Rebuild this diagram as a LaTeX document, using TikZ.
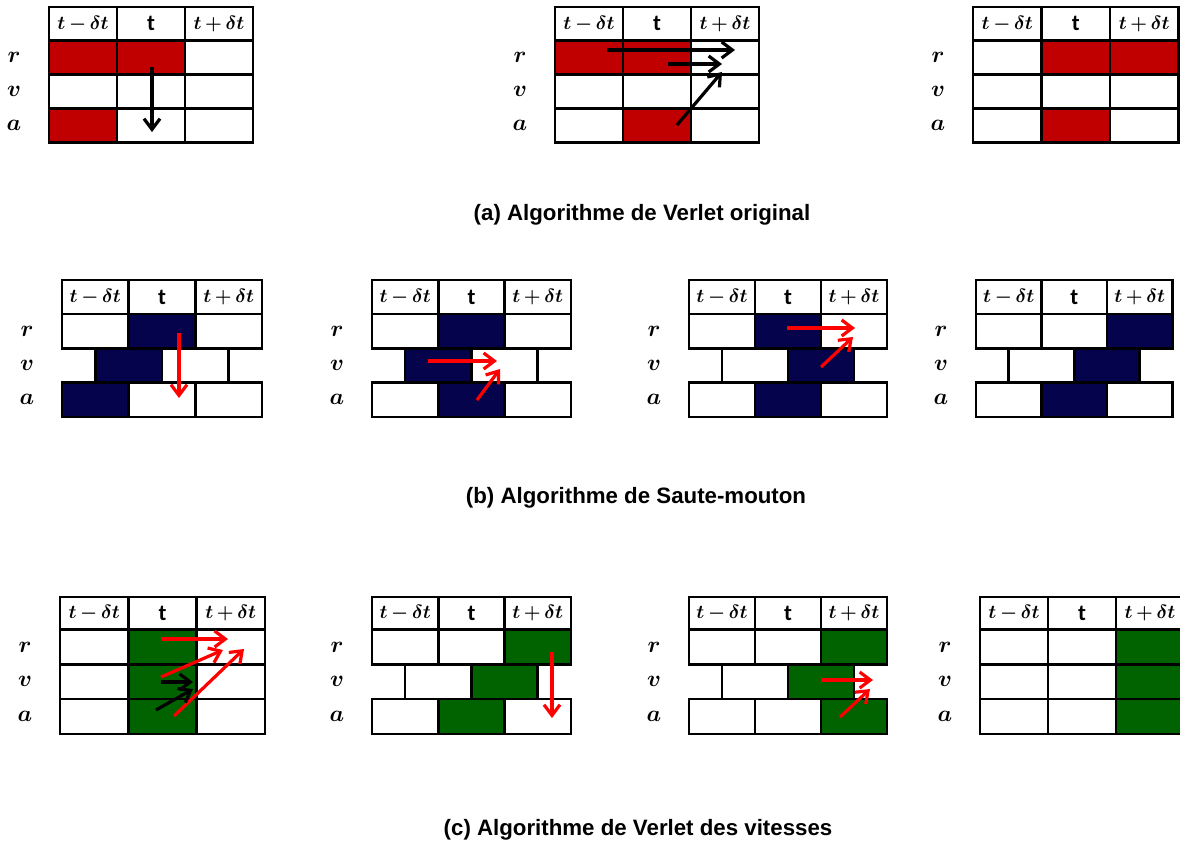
\documentclass[tikz,border=0pt]{standalone}
\usepackage{amsmath}
\usepackage{fontspec}
\usetikzlibrary{arrows.meta}
\newfontfamily\capfont{Liberation Sans}
\newfontfamily\calfont{Carlito}
\definecolor{vred}{HTML}{C00000}
\definecolor{vnavy}{HTML}{04034C}
\definecolor{vgreen}{HTML}{006300}
\definecolor{ared}{HTML}{FF0000}
\tikzset{
  grid/.style={line width=2pt, line cap=rect},
  hd/.style={font=\fontsize{15}{17}\selectfont\boldmath, inner sep=0pt},
  rl/.style={font=\fontsize{17}{19}\selectfont\boldmath, inner sep=0pt},
  captxt/.style={font=\capfont\bfseries\fontsize{16.7}{20}\selectfont, inner sep=0pt},
  arr/.style={line width=2.4pt, -{Straight Barb[length=8pt,width=12pt,line width=2.4pt]}},
  barr/.style={arr, black},
  rarr/.style={arr, ared},
}
% #1 name, #2 x0, #3 y0, #4 w, #5 header h, #6 row h, #7 shifted v row (0/1)
\newcommand\tabgrid[7]{%
  \node[hd] (#1-h1) at ({#2+0.5*#4},{#3+0.5*#5}) {$t\mkern-1mu-\mkern-1mu\delta t$};
  \node[hd] (#1-h2) at ({#2+1.5*#4},{#3+0.5*#5}) {\calfont\bfseries\fontsize{17}{19}\selectfont t};
  \node[hd] (#1-h3) at ({#2+2.5*#4},{#3+0.5*#5}) {$t\mkern-1mu+\mkern-1mu\delta t$};
  \node[rl] (#1-r) at ({#2-35},{#3+#5+0.5*#6}) {$r$};
  \node[rl] (#1-v) at ({#2-35},{#3+#5+1.5*#6}) {$v$};
  \node[rl] (#1-a) at ({#2-35},{#3+#5+2.5*#6}) {$a$};
  \draw[grid] (#2,#3) -- ++({3*#4},0);
  \draw[grid] (#2,{#3+#5}) -- ++({3*#4},0);
  \draw[grid] (#2,{#3+#5+#6}) -- ++({3*#4},0);
  \draw[grid] (#2,{#3+#5+2*#6}) -- ++({3*#4},0);
  \draw[grid] (#2,{#3+#5+3*#6}) -- ++({3*#4},0);
  \foreach \k in {0,1,2,3} {
    \draw[grid] ({#2+\k*#4},#3) -- ++(0,{#5+#6});
    \draw[grid] ({#2+\k*#4},{#3+#5+2*#6}) -- ++(0,#6);
  }
  \ifnum#7=0
    \foreach \k in {0,1,2,3} {\draw[grid] ({#2+\k*#4},{#3+#5+#6}) -- ++(0,#6);}
  \else
    \foreach \k in {0.5,1.5,2.5} {\draw[grid] ({#2+\k*#4},{#3+#5+#6}) -- ++(0,#6);}
  \fi
}
% #1 x0, #2 y0, #3 w, #4 hh, #5 rh, #6 column offset, #7 row (1..3), #8 colour
\newcommand\fillcell[8]{%
  \fill[#8] ({#1+#6*#3},{#2+#4+(#7-1)*#5}) rectangle ++(#3,#5);
}
\begin{document}
\begin{tikzpicture}[x=0.75pt, y=-0.75pt]
\useasboundingbox (0,0) rectangle (1180,843);
\clip (0,0) rectangle (1180,843);

% ---------- (a) ----------
\fillcell{49}{7}{68}{33.5}{34}{0}{1}{vred}
\fillcell{49}{7}{68}{33.5}{34}{1}{1}{vred}
\fillcell{49}{7}{68}{33.5}{34}{0}{3}{vred}
\tabgrid{A1}{49}{7}{68}{33.5}{34}{0}

\fillcell{555}{7}{68}{33.5}{34}{0}{1}{vred}
\fillcell{555}{7}{68}{33.5}{34}{1}{1}{vred}
\fillcell{555}{7}{68}{33.5}{34}{1}{3}{vred}
\tabgrid{A2}{555}{7}{68}{33.5}{34}{0}

\fillcell{973}{7}{68.5}{33.5}{34}{1}{1}{vred}
\fillcell{973}{7}{68.5}{33.5}{34}{2}{1}{vred}
\fillcell{973}{7}{68.5}{33.5}{34}{1}{3}{vred}
\tabgrid{A3}{973}{7}{68.5}{33.5}{34}{0}

\draw[barr] (152,67) -- (152,132);
\draw[barr] (607,50) -- (735,50);
\draw[barr] (668,64) -- (722,64);
\draw[barr] (677,125) -- (722,72);

\node[captxt] (capA) at (642,215) {(a) Algorithme de Verlet original};

% ---------- (b) ----------
\fillcell{62}{280}{66.7}{34}{34.3}{1}{1}{vnavy}
\fillcell{62}{280}{66.7}{34}{34.3}{0.5}{2}{vnavy}
\fillcell{62}{280}{66.7}{34}{34.3}{0}{3}{vnavy}
\tabgrid{B1}{62}{280}{66.7}{34}{34.3}{1}

\fillcell{372}{280}{66.3}{34}{34.3}{1}{1}{vnavy}
\fillcell{372}{280}{66.3}{34}{34.3}{0.5}{2}{vnavy}
\fillcell{372}{280}{66.3}{34}{34.3}{1}{3}{vnavy}
\tabgrid{B2}{372}{280}{66.3}{34}{34.3}{1}

\fillcell{689}{280}{66}{34}{34.3}{1}{1}{vnavy}
\fillcell{689}{280}{66}{34}{34.3}{1.5}{2}{vnavy}
\fillcell{689}{280}{66}{34}{34.3}{1}{3}{vnavy}
\tabgrid{B3}{689}{280}{66}{34}{34.3}{1}

\fillcell{976}{280}{65.5}{34}{34.3}{2}{1}{vnavy}
\fillcell{976}{280}{65.5}{34}{34.3}{1.5}{2}{vnavy}
\fillcell{976}{280}{65.5}{34}{34.3}{1}{3}{vnavy}
\tabgrid{B4}{976}{280}{65.5}{34}{34.3}{1}

\draw[rarr] (179,333) -- (179,398);
\draw[rarr] (428,361) -- (497,361);
\draw[rarr] (477,400) -- (500,369);
\draw[rarr] (787,328) -- (855,328);
\draw[rarr] (821,367) -- (853,337);

\node[captxt] (capB) at (636,498) {(b) Algorithme de Saute-mouton};

% ---------- (c) ----------
\fillcell{60}{597}{68.3}{32.5}{34.8}{1}{1}{vgreen}
\fillcell{60}{597}{68.3}{32.5}{34.8}{1}{2}{vgreen}
\fillcell{60}{597}{68.3}{32.5}{34.8}{1}{3}{vgreen}
\tabgrid{C1}{60}{597}{68.3}{32.5}{34.8}{0}

\fillcell{372}{597}{66.3}{32.5}{34.8}{2}{1}{vgreen}
\fillcell{372}{597}{66.3}{32.5}{34.8}{1.5}{2}{vgreen}
\fillcell{372}{597}{66.3}{32.5}{34.8}{1}{3}{vgreen}
\tabgrid{C2}{372}{597}{66.3}{32.5}{34.8}{1}

\fillcell{689}{597}{66}{32.5}{34.8}{2}{1}{vgreen}
\fillcell{689}{597}{66}{32.5}{34.8}{1.5}{2}{vgreen}
\fillcell{689}{597}{66}{32.5}{34.8}{2}{3}{vgreen}
\tabgrid{C3}{689}{597}{66}{32.5}{34.8}{1}

\fillcell{980}{597}{68}{32.5}{34.8}{2}{1}{vgreen}
\fillcell{980}{597}{68}{32.5}{34.8}{2}{2}{vgreen}
\fillcell{980}{597}{68}{32.5}{34.8}{2}{3}{vgreen}
\tabgrid{C4}{980}{597}{68}{32.5}{34.8}{0}

\draw[rarr] (161,639) -- (228,639);
\draw[rarr] (161,677) -- (223,650);
\draw[rarr] (174,716) -- (244,649);
\draw[barr] (161,682) -- (193,682);
\draw[barr] (156,710) -- (193,689);
\draw[rarr] (552,652) -- (552,718);
\draw[rarr] (821,680) -- (873,680);
\draw[rarr] (840,717) -- (870,689);

\node[captxt] (capC) at (638,830) {(c) Algorithme de Verlet des vitesses};
\end{tikzpicture}
\end{document}
